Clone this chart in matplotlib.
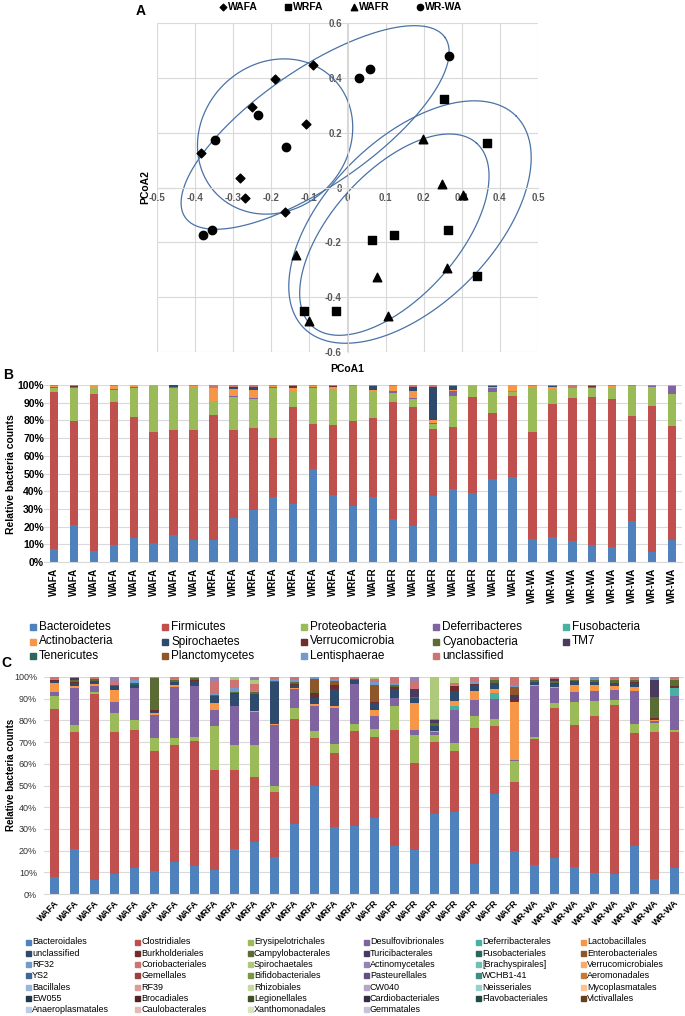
import numpy as np
import matplotlib
import matplotlib.pyplot as plt
from matplotlib.patches import Rectangle

plt.rcParams['font.family'] = ['Liberation Sans', 'DejaVu Sans']

# ---------------- panel A: PCoA scores ----------------
wafa_x = [-0.09, -0.19, -0.25, -0.11, -0.385, -0.282, -0.268, -0.165]
wafa_y = [0.446, 0.396, 0.295, 0.230, 0.125, 0.034, -0.039, -0.090]
wrfa_x = [0.252, 0.366, 0.263, 0.121, 0.064, 0.340, -0.030, -0.114]
wrfa_y = [0.321, 0.162, -0.156, -0.173, -0.190, -0.321, -0.450, -0.452]
wafr_x = [0.198, 0.248, 0.302, 0.260, 0.077, -0.136, 0.107, -0.100]
wafr_y = [0.176, 0.011, -0.029, -0.293, -0.325, -0.246, -0.467, -0.488]
wrwa_x = [0.266, 0.059, 0.031, -0.234, -0.349, -0.162, -0.355, -0.380]
wrwa_y = [0.481, 0.434, 0.401, 0.263, 0.175, 0.147, -0.154, -0.175]

# hand drawn group ellipses: centre (data), semi axes (px), angle (deg)
ellipses = [(-0.19, 0.186, 82, 73, 45), (-0.085, 0.219, 158, 58, 34.7),
            (0.164, -0.126, 150, 83, 45), (0.123, -0.172, 123, 63, 48)]

# ---------------- panel B: phylum level ----------------
samples = ['WAFA'] * 8 + ['WRFA'] * 8 + ['WAFR'] * 8 + ['WR-WA'] * 8

phyla = ['Bacteroidetes', 'Firmicutes', 'Proteobacteria', 'Deferribacteres', 'Fusobacteria',
         'Actinobacteria', 'Spirochaetes', 'Verrucomicrobia', 'Cyanobacteria', 'TM7',
         'Tenericutes', 'Planctomycetes', 'Lentisphaerae', 'unclassified']
b_bacteroidetes = [7.5, 20.8, 6.4, 9.5, 13.5, 10.7, 15.0, 12.5, 12.5, 25.1, 29.1, 36.6, 32.8, 52.7, 37.9, 31.9,
                   37.0, 24.4, 20.1, 37.5, 41.3, 39.2, 46.9, 47.8, 13.1, 14.4, 12.0, 9.6, 8.6, 22.9, 5.8, 12.2]
b_firmicutes = [88.5, 58.7, 88.6, 80.7, 68.5, 62.5, 59.5, 62.0, 70.5, 49.4, 46.5, 33.2, 54.8, 25.5, 39.4, 47.8,
                44.4, 66.0, 67.5, 37.5, 35.1, 54.0, 37.0, 46.0, 60.4, 74.7, 80.7, 83.6, 83.3, 59.7, 82.4, 64.7]
b_proteobacteria = [2.5, 19.0, 3.3, 7.1, 16.3, 26.2, 24.0, 24.4, 7.8, 18.7, 16.4, 28.7, 8.8, 20.3, 20.4, 19.5,
                    14.6, 5.1, 4.7, 3.2, 17.6, 6.4, 12.1, 2.4, 25.4, 7.9, 5.2, 5.3, 6.4, 16.8, 10.3, 18.2]
b_deferribacteres = [0.1, 0.3, 0.1, 0.2, 0.1, 0.1, 0.1, 0.1, 0.1, 0.4, 0.5, 0.1, 0.1, 0.1, 0.1, 0.3,
                     0.1, 0.9, 0.2, 0.1, 2.4, 0.1, 2.5, 0.1, 0.1, 0.2, 0.1, 0.1, 0.1, 0.1, 0.7, 4.5]
b_fusobacteria = [0, 0, 0, 0.3, 0, 0, 0, 0, 0, 0, 0, 0, 0, 0, 0, 0,
                  0, 0, 0.4, 0, 0, 0, 0, 0.4, 0, 0, 0, 0, 0, 0, 0, 0]
b_actinobacteria = [1.0, 0.2, 1.5, 1.5, 1.2, 0.2, 0.2, 0.2, 7.2, 4.0, 4.5, 0.8, 2.0, 1.0, 1.2, 0.2,
                    1.0, 3.0, 3.9, 1.9, 1.0, 0.2, 0.3, 3.2, 0.2, 1.5, 0.2, 0.2, 1.2, 0.2, 0.2, 0.2]
b_spirochaetes = [0, 0.1, 0, 0, 0, 0, 1.0, 0, 0.1, 1.5, 1.3, 0, 0.1, 0, 0.1, 0,
                  2.2, 0.3, 2.3, 18.8, 2.0, 0, 0.5, 0, 0, 0.8, 0, 0, 0, 0, 0, 0]
b_verrucomicrobia = [0, 0.5, 0, 0, 0, 0, 0, 0, 0.3, 0, 0, 0, 0.9, 0, 0.5, 0,
                     0, 0, 0, 0, 0, 0, 0, 0, 0, 0, 0, 0.6, 0, 0, 0, 0]
b_cyanobacteria = [0, 0.1, 0, 0, 0, 0, 0, 0.1, 0, 0, 0, 0, 0, 0, 0, 0,
                   0, 0, 0, 0, 0, 0, 0, 0, 0, 0, 0, 0, 0, 0, 0, 0.1]
b_tm7 = [0, 0, 0, 0, 0, 0, 0, 0, 0, 0, 0, 0, 0, 0, 0, 0,
         0, 0, 0, 0, 0, 0, 0, 0, 0, 0, 0, 0, 0, 0, 0, 0]
b_tenericutes = [0, 0, 0, 0, 0, 0, 0, 0, 0, 0.1, 0, 0, 0, 0, 0, 0,
                 0, 0, 0, 0, 0, 0, 0, 0, 0, 0, 0, 0, 0, 0, 0, 0]
b_planctomycetes = [0, 0, 0, 0, 0, 0, 0, 0, 0, 0, 0, 0, 0, 0, 0, 0,
                    0, 0, 0, 0, 0, 0, 0, 0, 0, 0, 0, 0, 0, 0, 0, 0]
b_lentisphaerae = [0, 0, 0, 0, 0, 0, 0, 0, 0, 0, 0, 0, 0, 0, 0, 0,
                   0, 0, 0, 0, 0, 0, 0, 0, 0, 0, 0, 0, 0, 0, 0, 0]
b_unclassified = [0.4, 0.4, 0.1, 0.7, 0.2, 0.1, 0.2, 0.7, 1.5, 0.9, 1.3, 0.6, 0.5, 0.4, 0.4, 0.3,
                  0.7, 0.3, 1.0, 1.0, 0.6, 0.1, 0.7, 0.1, 0.8, 0.5, 1.6, 0.6, 0.4, 0.3, 0.5, 0.1]

# ---------------- panel C: order level ----------------
orders = ['Bacteroidales', 'Clostridiales', 'Erysipelotrichales', 'Desulfovibrionales', 'Deferribacterales',
          'Lactobacillales', 'unclassified', 'Burkholderiales', 'Campylobacterales', 'Turicibacterales',
          'Fusobacteriales', 'Enterobacteriales', 'RF32', 'Coriobacteriales', 'Spirochaetales',
          'Actinomycetales', '[Brachyspirales]', 'Verrucomicrobiales', 'YS2', 'Gemellales',
          'Bifidobacteriales', 'Pasteurellales', 'WCHB1-41', 'Aeromonadales', 'Bacillales', 'RF39',
          'Rhizobiales', 'CW040', 'Neisseriales', 'Mycoplasmatales', 'EW055', 'Brocadiales',
          'Legionellales', 'Cardiobacteriales', 'Flavobacteriales', 'Victivallales',
          'Anaeroplasmatales', 'Caulobacterales', 'Xanthomonadales', 'Gemmatales']
c_bacteroidales = [7.8, 20.6, 6.6, 9.1, 12.1, 10.5, 14.8, 12.8, 11.2, 20.6, 24.3, 17.0, 32.3, 50.2, 30.8, 31.6,
                   35.3, 22.0, 20.4, 37.3, 38.1, 14.0, 46.2, 20.1, 13.5, 16.6, 12.3, 9.7, 9.1, 22.4, 6.9, 12.3]
c_clostridiales = [77.6, 54.4, 85.7, 65.9, 63.9, 55.9, 54.0, 57.9, 46.4, 37.0, 29.9, 30.0, 48.7, 21.8, 34.2, 44.1,
                   37.5, 53.7, 40.4, 33.5, 28.4, 63.0, 31.5, 32.3, 58.1, 69.6, 65.9, 72.9, 78.6, 52.3, 68.1, 62.8]
c_erysipelotrichales = [5.8, 3.3, 1.2, 9.0, 4.8, 6.0, 3.4, 2.3, 20.4, 11.4, 14.8, 3.0, 5.2, 3.4, 4.4, 3.3,
                        3.7, 11.4, 13.1, 2.9, 3.5, 5.3, 3.6, 9.5, 1.1, 2.6, 10.7, 7.0, 2.0, 4.1, 4.3, 1.1]
c_desulfovibrionales = [2.0, 16.8, 2.8, 5.2, 14.6, 10.7, 23.5, 23.3, 7.6, 17.9, 15.5, 28.0, 8.7, 11.5, 16.6, 18.2,
                        5.8, 3.4, 2.0, 1.7, 15.1, 7.3, 9.2, 0.8, 23.5, 6.9, 4.5, 4.3, 4.9, 15.1, 1.0, 15.8]
c_deferribacterales = [0, 0, 0, 0, 0.2, 0, 0, 0, 0, 0, 0, 0, 0, 0, 0, 0,
                       0, 0, 0, 0, 2.2, 0, 2.6, 0, 0, 0, 0, 0, 0, 0, 0, 3.7]
c_lactobacillales = [4.0, 1.1, 0.9, 5.6, 0.2, 0.9, 0.9, 0.2, 3.3, 0.2, 0.2, 0.5, 0.3, 0.9, 1.0, 0.2,
                     2.7, 0.3, 12.6, 0.2, 2.3, 4.3, 2.0, 27.0, 0.6, 0.3, 3.2, 2.7, 1.6, 1.8, 0.5, 0.2]
c_unclassified = [1.1, 1.5, 1.3, 1.5, 1.0, 0.3, 1.4, 2.2, 3.0, 5.5, 8.0, 19.5, 1.8, 2.8, 7.5, 1.6,
                  3.5, 4.1, 2.3, 2.3, 4.3, 3.0, 2.6, 0.5, 1.2, 1.5, 1.9, 1.4, 1.5, 2.0, 0.3, 0.5]
c_burkholderiales = [0.3, 0.2, 0.1, 0.2, 0.1, 1.2, 0.2, 0.5, 0.3, 0.2, 0.2, 0.1, 0.2, 2.6, 2.0, 0.2,
                     0.3, 0.8, 0.2, 0.2, 2.3, 0.2, 0.3, 0.3, 0.2, 0.2, 0.2, 0.2, 0.2, 0.2, 0.2, 0.2]
c_campylobacterales = [0.2, 1.1, 0.7, 0.2, 0.2, 14.8, 1.0, 1.0, 0.2, 0.8, 1.0, 0.2, 1.0, 0.2, 0.2, 0.4,
                       0.2, 1.0, 0.2, 1.5, 0.3, 0.2, 1.0, 0.2, 1.0, 1.2, 0.2, 0.8, 1.2, 1.2, 10.0, 3.0]
c_turicibacterales = [0, 0.8, 0, 0, 0, 0, 0, 0, 0, 0, 0, 0, 0, 0, 0, 0,
                      0, 0, 3.8, 1.2, 0, 0, 0, 2.3, 0, 0.8, 0, 0, 0, 0, 8.0, 0]
c_fusobacteriales = [0, 0, 0, 0, 0.8, 0, 0, 0, 0, 0, 0, 0, 0, 0, 0, 0,
                     0, 0, 0, 0, 0, 0, 0, 0, 0, 0, 0, 0, 0, 0, 0, 0]
c_enterobacteriales = [0, 0, 0, 0, 0, 0, 0, 0, 0, 0, 0, 0, 0, 6.0, 1.5, 0,
                       7.7, 0, 0, 0, 0, 0, 0, 3.7, 0, 0, 0, 0, 0, 0, 0, 0]
c_rf32 = [0.4, 0.2, 0.2, 0.2, 1.2, 0.1, 0.2, 0.2, 0.3, 1.8, 0.3, 1.0, 1.0, 0.8, 1.0, 0.2,
          1.3, 1.0, 0.2, 0.2, 0.3, 1.2, 0.3, 0.2, 0.2, 0.2, 0.5, 1.2, 0.3, 0.3, 0.6, 0.5]
c_coriobacteriales = [1.0, 0.4, 0.8, 1.5, 1.6, 0.2, 1.0, 0.2, 5.6, 3.7, 3.4, 1.0, 1.3, 0.2, 1.0, 0.8,
                      1.5, 2.6, 3.1, 0.2, 1.2, 1.9, 1.3, 4.3, 1.0, 0.8, 1.0, 0.3, 1.1, 1.0, 0.6, 0.8]
c_spirochaetales = [0, 0, 0, 0, 0, 0, 0, 0, 0, 1.3, 1.5, 0, 0, 0, 0, 0,
                    1.0, 0, 0, 19.6, 2.6, 0, 0, 0, 0, 0, 0, 0, 0, 0, 0, 0]
c_actinomycetales = [0, 0, 0, 2.2, 0, 0, 0, 0, 2.5, 0, 1.6, 0, 0, 0, 0, 0,
                     0, 0, 2.3, 0, 0, 0, 0, 0, 0, 0, 0, 0, 0, 0, 0, 0]


def excel_color(i):
    # office chart colour cycle: accents, then shades / tints of them
    base = ['#4F81BD', '#C0504D', '#9BBB59', '#8064A2', '#4BB0A4', '#F79646'][i % 6]
    mode, f = [('n', 0), ('d', 0.58), ('l', 0.2), ('d', 0.8), ('l', 0.42), ('d', 0.42), ('l', 0.6)][i // 6]
    rgb = np.array(matplotlib.colors.to_rgb(base))
    if mode == 'd':
        rgb = rgb * f
    elif mode == 'l':
        rgb = rgb + (1 - rgb) * f
    return rgb


W, H = 685, 1016
fig = plt.figure(figsize=(W / 100, H / 100), dpi=100)


def fx(px):
    return px / W


def fy(py):
    return 1 - py / H


grid_c = '#d9d9d9'

# ---------- A ----------
axa = fig.add_axes([fx(157), fy(352), 381 / W, 329 / H])
axa.set_xlim(-0.5, 0.5)
axa.set_ylim(-0.6, 0.6)
sx = 381 / 1.0
sy = 329 / 1.2
t = np.linspace(0, 2 * np.pi, 400)
for cx, cy, a, b, ang in ellipses:
    th = np.radians(ang)
    ex = a * np.cos(t) * np.cos(th) - b * np.sin(t) * np.sin(th)
    ey = a * np.cos(t) * np.sin(th) + b * np.sin(t) * np.cos(th)
    axa.plot(cx + ex / sx, cy + ey / sy, color='#4a72a6', lw=0.9, zorder=2)

h1 = axa.scatter(wafa_x, wafa_y, marker='D', s=20, color='black', zorder=3, label='WAFA')
h2 = axa.scatter(wrfa_x, wrfa_y, marker='s', s=34, color='black', zorder=3, label='WRFA')
h3 = axa.scatter(wafr_x, wafr_y, marker='^', s=38, color='black', zorder=3, label='WAFR')
h4 = axa.scatter(wrwa_x, wrwa_y, marker='o', s=36, color='black', zorder=3, label='WR-WA')

axa.set_xticks(np.arange(-0.5, 0.51, 0.1))
axa.set_xticklabels(['-0.5', '-0.4', '-0.3', '-0.2', '-0.1', '0', '0.1', '0.2', '0.3', '0.4', '0.5'])
axa.set_yticks(np.arange(-0.6, 0.61, 0.2))
axa.set_yticklabels(['-0.6', '-0.4', '-0.2', '0', '0.2', '0.4', '0.6'])
axa.grid(color=grid_c, lw=0.8, zorder=0)
axa.set_axisbelow(True)
axa.spines['left'].set_position(('data', 0))
axa.spines['bottom'].set_position(('data', 0))
for s in ['left', 'bottom']:
    axa.spines[s].set_color(grid_c)
for s in ['top', 'right']:
    axa.spines[s].set_visible(False)
axa.tick_params(length=0, labelsize=7, labelcolor='#595959', pad=4)
for lbl in axa.get_xticklabels() + axa.get_yticklabels():
    lbl.set_fontweight('bold')

fig.legend(handles=[h1, h2, h3, h4], loc='center', bbox_to_anchor=(fx(340), fy(7)), ncol=4,
           frameon=False, prop={'weight': 'bold', 'size': 7.5}, handletextpad=0.0,
           columnspacing=2.4, handlelength=1.0, markerscale=0.75)
fig.text(fx(347), fy(369), 'PCoA1', ha='center', va='center', fontsize=7.5, fontweight='bold')
fig.text(fx(145), fy(187), 'PCoA2', ha='center', va='center', rotation=90, fontsize=7.5, fontweight='bold')
fig.text(fx(141), fy(11), 'A', ha='center', va='center', fontsize=10, fontweight='bold')

# ---------- B ----------
b_values = [b_bacteroidetes, b_firmicutes, b_proteobacteria, b_deferribacteres, b_fusobacteria,
            b_actinobacteria, b_spirochaetes, b_verrucomicrobia, b_cyanobacteria, b_tm7,
            b_tenericutes, b_planctomycetes, b_lentisphaerae, b_unclassified]
x = np.arange(len(samples))
axb = fig.add_axes([fx(44), fy(562), 638 / W, 177 / H])
b_total = np.sum(np.array(b_values, dtype=float), axis=0)
bottom = np.zeros(len(samples))
for i, vals in enumerate(b_values):
    v = np.array(vals) / b_total * 100
    axb.bar(x, v, 0.42, bottom=bottom, color=excel_color(i), zorder=2)
    bottom += v
axb.set_xlim(-0.5, len(samples) - 0.5)
axb.set_ylim(0, 100)
axb.set_yticks(np.arange(0, 101, 10))
axb.set_yticklabels([f'{v}%' for v in range(0, 101, 10)])
axb.set_xticks(x)
axb.set_xticklabels(samples, rotation=90)
axb.yaxis.grid(True, color=grid_c, lw=0.8, zorder=0)
for s in ['top', 'right', 'left']:
    axb.spines[s].set_visible(False)
axb.spines['bottom'].set_color(grid_c)
axb.tick_params(length=0, labelsize=7.5)
axb.tick_params(axis='y', pad=0)
axb.tick_params(axis='x', labelsize=7, pad=4)
for lbl in axb.get_xticklabels() + axb.get_yticklabels():
    lbl.set_fontweight('bold')
fig.text(fx(11), fy(474), 'Relative bacteria counts', ha='center', va='center', rotation=90,
         fontsize=7.5, fontweight='bold')
fig.text(fx(8), fy(375), 'B', ha='center', va='center', fontsize=10, fontweight='bold')

b_cols = [33, 165, 304, 436, 566]
for i, name in enumerate(phyla):
    r, c = divmod(i, 5)
    px, py = b_cols[c], 627 + r * 14.5
    fig.patches.append(Rectangle((fx(px - 3), fy(py + 3)), 6 / W, 6 / H, color=excel_color(i),
                                 transform=fig.transFigure, figure=fig))
    fig.text(fx(px + 6), fy(py), name, ha='left', va='center', fontsize=8.5)

# ---------- C ----------
c_values = [c_bacteroidales, c_clostridiales, c_erysipelotrichales, c_desulfovibrionales,
            c_deferribacterales, c_lactobacillales, c_unclassified, c_burkholderiales,
            c_campylobacterales, c_turicibacterales, c_fusobacteriales, c_enterobacteriales,
            c_rf32, c_coriobacteriales, c_spirochaetales, c_actinomycetales]
axc = fig.add_axes([fx(44), fy(894), 640 / W, 217 / H])
c_total = np.sum(np.array(c_values, dtype=float), axis=0)
bottom = np.zeros(len(samples))
for i, vals in enumerate(c_values):
    v = np.array(vals) / c_total * 100
    axc.bar(x, v, 0.45, bottom=bottom, color=excel_color(i), zorder=2)
    bottom += v
axc.set_xlim(-0.5, len(samples) - 0.5)
axc.set_ylim(0, 100)
axc.set_yticks(np.arange(0, 101, 10))
axc.set_yticklabels([f'{v}%' for v in range(0, 101, 10)])
axc.set_xticks(x)
axc.set_xticklabels(samples, rotation=45, ha='right', rotation_mode='anchor',
                    fontweight='bold', fontsize=6.5)
axc.yaxis.grid(True, color=grid_c, lw=0.8, zorder=0)
for s in ['top', 'right', 'left']:
    axc.spines[s].set_visible(False)
axc.spines['bottom'].set_color(grid_c)
axc.tick_params(length=0)
axc.tick_params(axis='y', labelsize=6.5, labelcolor='#333333', pad=5)
axc.tick_params(axis='x', pad=3)
fig.text(fx(11), fy(775), 'Relative bacteria counts', ha='center', va='center', rotation=90,
         fontsize=7, fontweight='bold')
fig.text(fx(6), fy(663), 'C', ha='center', va='center', fontsize=10, fontweight='bold')

c_cols = [28, 137, 250, 366, 478, 583]
for i, name in enumerate(orders):
    r, c = divmod(i, 6)
    px, py = c_cols[c], 942 + r * 11.3
    fig.patches.append(Rectangle((fx(px - 2.5), fy(py + 2.5)), 5 / W, 5 / H, color=excel_color(i),
                                 transform=fig.transFigure, figure=fig))
    fig.text(fx(px + 4), fy(py), name, ha='left', va='center', fontsize=6.5)

fig.savefig('out.png', dpi=100)
